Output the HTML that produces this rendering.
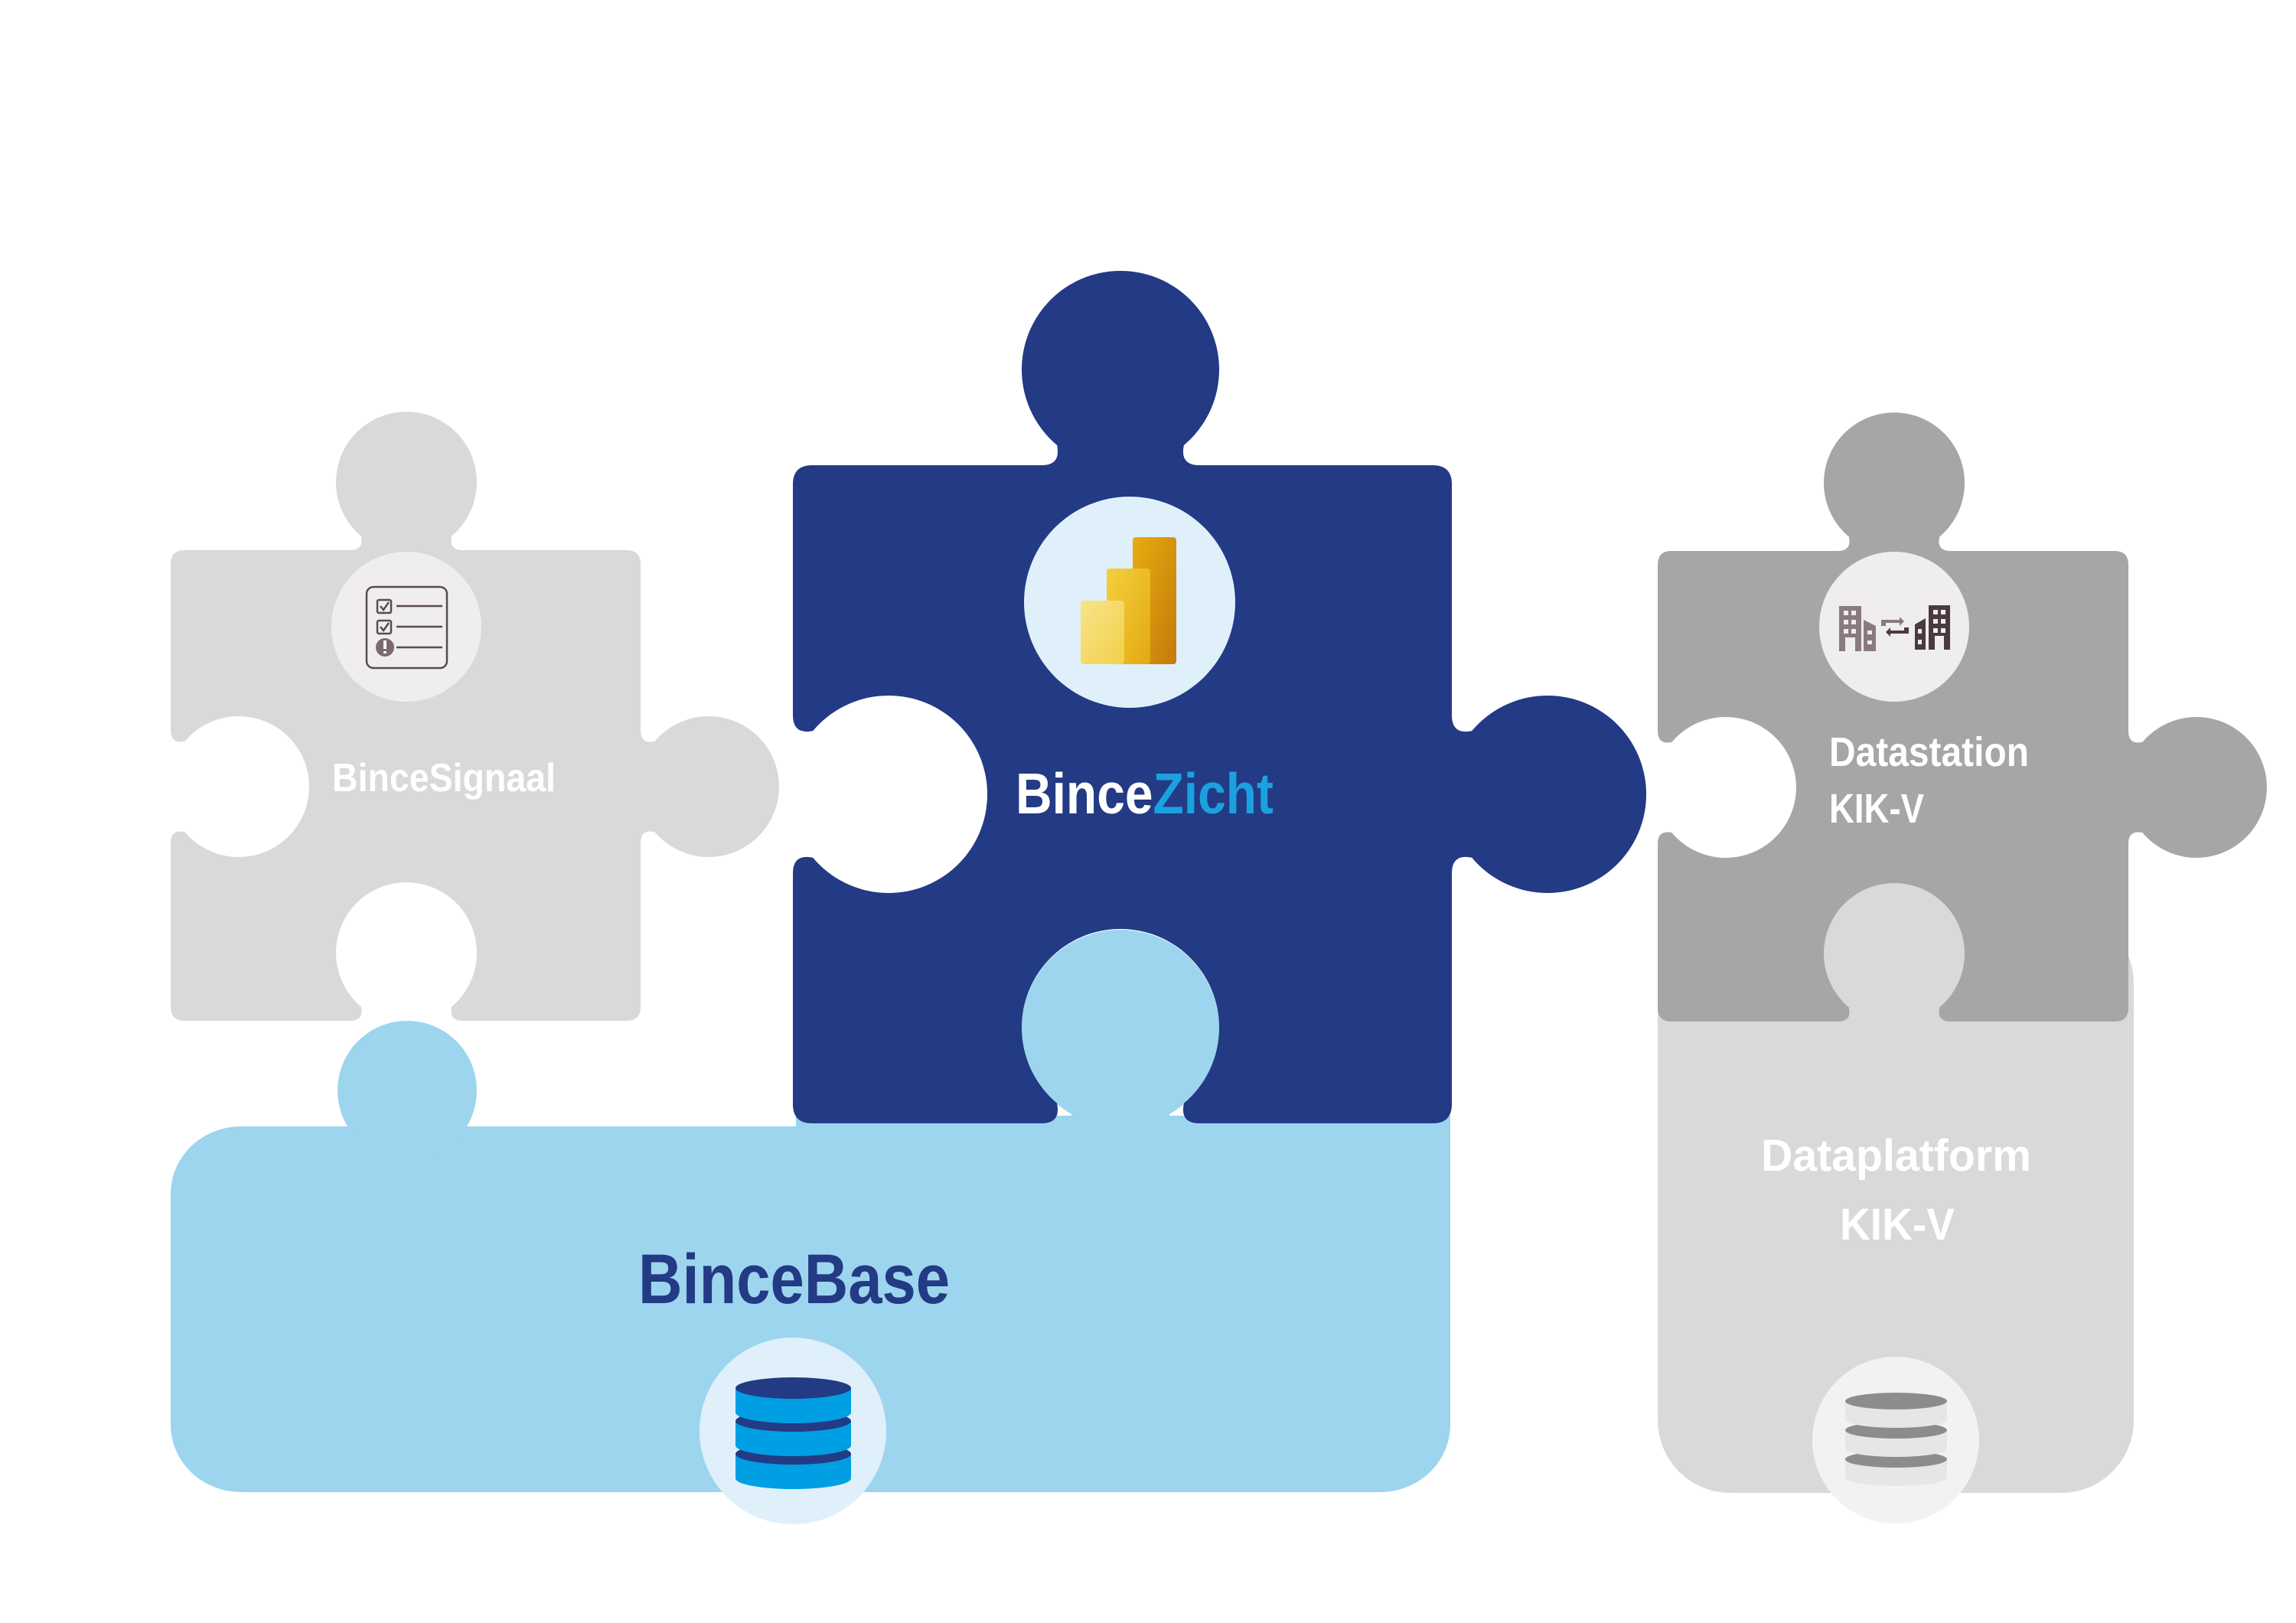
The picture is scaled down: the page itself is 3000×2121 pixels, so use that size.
<!DOCTYPE html>
<html><head><meta charset="utf-8"><style>
html,body{margin:0;padding:0;background:#fff;}
svg{display:block;}
</style></head><body>
<svg id="s" width="3000" height="2121" viewBox="0 0 3000 2121" xmlns="http://www.w3.org/2000/svg">
<!-- BinceBase -->
<g fill="#9DD5EE">
<rect x="223" y="1472" width="1672" height="478" rx="92" ry="88"/>
<rect x="1040" y="1458" width="855" height="200"/>
<circle cx="532" cy="1425" r="91"/>
<circle cx="1464" cy="1344" r="129"/>
<rect x="1400" y="1344" width="128" height="140"/>
</g>
<!-- Dataplatform -->
<g fill="#D9D9D9">
<rect x="2166" y="1190" width="622" height="761" rx="95" ry="95"/>
<circle cx="2475" cy="1246" r="92"/>
<rect x="2430" y="1246" width="90" height="100"/>
</g>
<path id="p1" fill="#D9D9D9"/>
<path id="p2" fill="#233A85"/>
<path id="p3" fill="#A6A6A6"/>

<!-- Signaal icon -->
<circle cx="531" cy="819" r="98" fill="#EFEDEE"/>
<g stroke="#5A4A50" stroke-width="2.5" fill="none">
<rect x="479" y="767" width="105" height="106" rx="9"/>
<rect x="493" y="784" width="18" height="17" rx="2"/>
<rect x="493" y="811" width="18" height="17" rx="2"/>
<line x1="518" y1="792" x2="578" y2="792"/>
<line x1="518" y1="819" x2="578" y2="819"/>
<line x1="518" y1="846" x2="578" y2="846"/>
<path d="M497 792 l4 5 l7 -10"/>
<path d="M497 819 l4 5 l7 -10"/>
</g>
<circle cx="503" cy="846" r="12" fill="#7A6A70"/>
<rect x="501" y="837" width="4" height="11" fill="#fff"/>
<rect x="501" y="851" width="4" height="3" fill="#fff"/>

<!-- Power BI icon -->
<circle cx="1476" cy="787" r="138" fill="#DFF0FB"/>
<defs>
<linearGradient id="g3" x1="0" y1="0" x2="1" y2="1"><stop offset="0" stop-color="#E6AD10"/><stop offset="1" stop-color="#C47A0B"/></linearGradient>
<linearGradient id="g2" x1="0" y1="0" x2="1" y2="1"><stop offset="0" stop-color="#F3D03E"/><stop offset="1" stop-color="#E2A910"/></linearGradient>
<linearGradient id="g1" x1="0" y1="0" x2="1" y2="1"><stop offset="0" stop-color="#F8E48A"/><stop offset="1" stop-color="#F2D048"/></linearGradient>
</defs>
<rect x="1480" y="702" width="57" height="166" rx="4" fill="url(#g3)"/>
<rect x="1446" y="743" width="57" height="125" rx="4" fill="url(#g2)"/>
<rect x="1412" y="785" width="57" height="83" rx="4" fill="url(#g1)"/>

<!-- Datastation icon -->
<circle cx="2475" cy="819" r="98" fill="#EFEDEE"/>
<g fill="#8A7A80">
<path d="M2403 792 h29 v59 h-8 v-18 h-13 v18 h-8z"/>
<path d="M2435 810 l16 8 v33 h-16z"/>
<path d="M2458 818 v-8 h24 v-4 l6 6 l-6 6 v-4 h-18 v4z"/>
</g>
<g fill="#EFEDEE">
<rect x="2409" y="798" width="6" height="6"/><rect x="2419" y="798" width="6" height="6"/>
<rect x="2409" y="810" width="6" height="6"/><rect x="2419" y="810" width="6" height="6"/>
<rect x="2409" y="822" width="6" height="6"/><rect x="2419" y="822" width="6" height="6"/>
<rect x="2440" y="824" width="6" height="5"/><rect x="2440" y="837" width="6" height="5"/>
</g>
<g fill="#4A3A40">
<path d="M2494 820 v8 h-24 v4 l-6 -6 l6 -6 v4 h18 v-4z"/>
<path d="M2502 816 l14 -8 v41 h-14z"/>
<path d="M2520 791 h28 v58 h-8 v-18 h-12 v18 h-8z"/>
</g>
<g fill="#EFEDEE">
<rect x="2506" y="822" width="5" height="6"/><rect x="2506" y="836" width="5" height="6"/>
<rect x="2526" y="797" width="6" height="6"/><rect x="2536" y="797" width="6" height="6"/>
<rect x="2526" y="809" width="6" height="6"/><rect x="2536" y="809" width="6" height="6"/>
<rect x="2526" y="821" width="6" height="6"/><rect x="2536" y="821" width="6" height="6"/>
</g>

<!-- Base DB icon -->
<circle cx="1036" cy="1870" r="122" fill="#DFF0FB"/>
<g id="dbb"></g>
<!-- Platform DB icon -->
<circle cx="2477" cy="1882" r="109" fill="#F2F2F2"/>
<g id="dbg"></g>

<!-- Texts -->
<g font-family="'Liberation Sans', sans-serif" font-weight="bold">
<text x="434" y="1034" font-size="52" fill="#fff" textLength="292" lengthAdjust="spacingAndGlyphs">BinceSignaal</text>
<text x="1327" y="1063" font-size="75" textLength="337" lengthAdjust="spacingAndGlyphs"><tspan fill="#fff">Bince</tspan><tspan fill="#1BA1DF">Zicht</tspan></text>
<text x="834" y="1703" font-size="92" fill="#233A85" textLength="407" lengthAdjust="spacingAndGlyphs">BinceBase</text>
<text x="2390" y="1001" font-size="54" fill="#fff" textLength="261" lengthAdjust="spacingAndGlyphs">Datastation</text>
<text x="2390" y="1075" font-size="54" fill="#fff" textLength="124" lengthAdjust="spacingAndGlyphs">KIK-V</text>
<text x="2301" y="1530" font-size="58" fill="#fff" textLength="353" lengthAdjust="spacingAndGlyphs">Dataplatform</text>
<text x="2404" y="1620" font-size="58" fill="#fff" textLength="150" lengthAdjust="spacingAndGlyphs">KIK-V</text>
</g>
</svg>
<script>
function f(n){return n.toFixed(1);}
function piece(x0,y0,x1,y1,c,r,d,tabs){
  var p="M"+f(x0+c)+" "+f(y0);
  function tab(mx,my,T,N,s){
    var A=[mx-0.8*r*T[0],my-0.8*r*T[1]],K1=[mx-0.6*r*T[0],my-0.6*r*T[1]];
    var C=[mx+s*d*N[0],my+s*d*N[1]];
    var B1=[C[0]-s*0.766*r*N[0]-0.643*r*T[0],C[1]-s*0.766*r*N[1]-0.643*r*T[1]];
    var B2=[C[0]-s*0.766*r*N[0]+0.643*r*T[0],C[1]-s*0.766*r*N[1]+0.643*r*T[1]];
    var K2=[mx+0.6*r*T[0],my+0.6*r*T[1]],A2=[mx+0.8*r*T[0],my+0.8*r*T[1]];
    return " L"+f(A[0])+" "+f(A[1])+" Q"+f(K1[0])+" "+f(K1[1])+" "+f(B1[0])+" "+f(B1[1])+
      " A"+r+" "+r+" 0 1 "+(s>0?1:0)+" "+f(B2[0])+" "+f(B2[1])+
      " Q"+f(K2[0])+" "+f(K2[1])+" "+f(A2[0])+" "+f(A2[1]);
  }
  if(tabs.top)p+=tab(tabs.top[0],y0,[1,0],[0,-1],tabs.top[1]);
  p+=" L"+f(x1-c)+" "+f(y0)+" Q"+x1+" "+y0+" "+x1+" "+f(y0+c);
  if(tabs.right)p+=tab(x1,tabs.right[0],[0,1],[1,0],tabs.right[1]);
  p+=" L"+x1+" "+f(y1-c)+" Q"+x1+" "+y1+" "+f(x1-c)+" "+y1;
  if(tabs.bottom)p+=tab(tabs.bottom[0],y1,[-1,0],[0,1],tabs.bottom[1]);
  p+=" L"+f(x0+c)+" "+y1+" Q"+x0+" "+y1+" "+x0+" "+f(y1-c);
  if(tabs.left)p+=tab(x0,tabs.left[0],[0,-1],[-1,0],tabs.left[1]);
  p+=" L"+x0+" "+f(y0+c)+" Q"+x0+" "+y0+" "+f(x0+c)+" "+y0+" Z";
  return p;
}
document.getElementById("p1").setAttribute("d",piece(223,719,837,1334,18,92,89,{top:[531,1],right:[1028,1],bottom:[531,-1],left:[1028,-1]}));
document.getElementById("p2").setAttribute("d",piece(1036,608,1897,1468,25,129,125,{top:[1464,1],right:[1038,1],bottom:[1464,-1],left:[1038,-1]}));
document.getElementById("p3").setAttribute("d",piece(2166,720,2781,1335,18,92,89,{top:[2475,1],right:[1029,1],bottom:[2475,-1],left:[1029,-1]}));
function db(id,x,w,ys,h,ry,topc,bodyc){
  var g=document.getElementById(id),s="";
  ys.forEach(function(y){
    var cx=x+w/2,rx=w/2;
    s+='<rect x="'+x+'" y="'+(y+ry)+'" width="'+w+'" height="'+h+'" fill="'+bodyc+'"/>';
    s+='<ellipse cx="'+cx+'" cy="'+(y+ry+h)+'" rx="'+rx+'" ry="'+ry+'" fill="'+bodyc+'"/>';
    s+='<ellipse cx="'+cx+'" cy="'+(y+ry)+'" rx="'+rx+'" ry="'+ry+'" fill="'+topc+'"/>';
  });
  g.innerHTML=s;
}
db("dbg",2411,133,[1896,1858,1820],24,11,"#8C8C8C","#E6E6E6");
db("dbb",961,151,[1886,1843,1800],32,14,"#233A85","#009FE3");
</script>
</body></html>
